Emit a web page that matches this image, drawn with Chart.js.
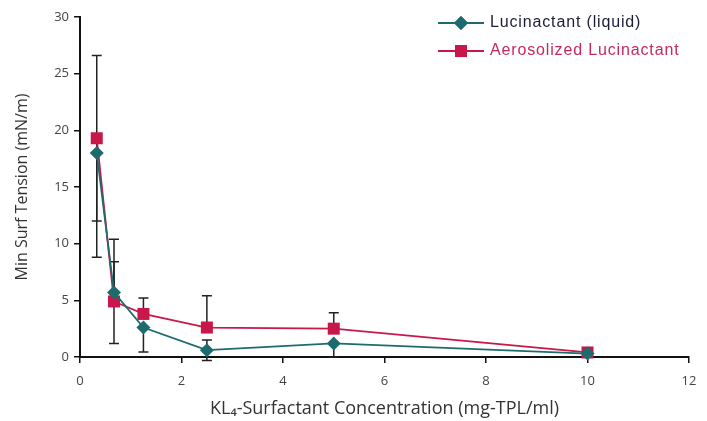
<!DOCTYPE html>
<html>
<head>
<meta charset="utf-8">
<script src="https://cdn.jsdelivr.net/npm/chart.js@4.4.1/dist/chart.umd.min.js"></script>
<style>
  html, body { margin: 0; padding: 0; background: #fff; }
  #wrap { width: 707px; height: 421px; }
</style>
</head>
<body>
<div id="wrap"><canvas id="myChart" width="707" height="421"></canvas></div>
<script>
// concentration (mg-TPL/ml)
var conc = [0.33, 0.67, 1.25, 2.5, 5, 10];
var liquidVals = [18.0, 5.7, 2.6, 0.6, 1.2, 0.3];
var liquidErrUp = [0, 4.7, 0, 0.9, 0, 0];
var liquidErrDown = [9.2, 0, 2.15, 0.9, 1.2, 0];
var aeroVals = [19.3, 4.9, 3.8, 2.6, 2.5, 0.4];
var aeroErrUp = [7.3, 3.5, 1.4, 2.8, 1.4, 0];
var aeroErrDown = [7.3, 3.7, 0, 0, 0, 0];
var xTicks = [0, 2, 4, 6, 8, 10, 12];
var yTicks = [0, 5, 10, 15, 20, 25, 30];
var seriesNames = ['Lucinactant (liquid)', 'Aerosolized Lucinactant'];

var teal = '#1e6b6e';
var red = '#c8184a';

function toPoints(vals, up, down) {
  return conc.map(function (c, i) {
    return { x: c, y: vals[i], up: up[i], down: down[i] };
  });
}

// error bars, drawn under the markers
var errorBars = {
  id: 'errorBars',
  beforeDatasetsDraw: function (chart) {
    var ctx = chart.ctx;
    var xs = chart.scales.x, ys = chart.scales.y;
    ctx.save();
    ctx.strokeStyle = '#222';
    ctx.lineWidth = 1.5;
    chart.data.datasets.forEach(function (ds) {
      ds.data.forEach(function (p) {
        var px = xs.getPixelForValue(p.x);
        var py = ys.getPixelForValue(p.y);
        [[p.up, 1], [p.down, -1]].forEach(function (e) {
          if (!e[0]) return;
          var ey = ys.getPixelForValue(p.y + e[0] * e[1]);
          ctx.beginPath();
          ctx.moveTo(px, py);
          ctx.lineTo(px, ey);
          ctx.moveTo(px - 5, ey);
          ctx.lineTo(px + 5, ey);
          ctx.stroke();
        });
      });
    });
    ctx.restore();
  }
};

// legend with line + marker, top right
var legendBox = {
  id: 'legendBox',
  afterDraw: function (chart) {
    var ctx = chart.ctx;
    var rows = [
      { y: 23, color: teal, style: 'rectRot', r: 7, text: seriesNames[0], textColor: '#1c1c38' },
      { y: 51, color: red, style: 'rect', r: 8.5, text: seriesNames[1], textColor: '#c8285a' }
    ];
    ctx.save();
    rows.forEach(function (row) {
      ctx.strokeStyle = row.color;
      ctx.lineWidth = 2;
      ctx.beginPath();
      ctx.moveTo(438, row.y);
      ctx.lineTo(484, row.y);
      ctx.stroke();
      ctx.fillStyle = row.color;
      Chart.helpers.drawPoint(ctx, { pointStyle: row.style, radius: row.r, borderWidth: 0, rotation: 0 }, 461, row.y);
      ctx.fill();
      ctx.fillStyle = row.textColor;
      ctx.font = '16px "Liberation Sans", Arial, sans-serif';
      ctx.letterSpacing = '0.85px';
      ctx.textBaseline = 'middle';
      ctx.fillText(row.text, 490, row.y);
    });
    ctx.restore();
  }
};

var ctx = document.getElementById('myChart');
var myChart = new Chart(ctx, {
  type: 'line',
  data: {
    datasets: [{
      label: seriesNames[0],
      data: toPoints(liquidVals, liquidErrUp, liquidErrDown),
      borderColor: teal,
      backgroundColor: teal,
      borderWidth: 1.8,
      pointStyle: 'rectRot',
      pointRadius: 7,
      pointBorderWidth: 0,
      tension: 0
    }, {
      label: seriesNames[1],
      data: toPoints(aeroVals, aeroErrUp, aeroErrDown),
      borderColor: red,
      backgroundColor: red,
      borderWidth: 1.8,
      pointStyle: 'rect',
      pointRadius: 8.5,
      pointBorderWidth: 0,
      tension: 0
    }]
  },
  options: {
    responsive: false,
    animation: false,
    clip: false,
    layout: { padding: { top: 17, right: 18, left: 0, bottom: 0 } },
    plugins: {
      legend: { display: false },
      tooltip: { enabled: false }
    },
    scales: {
      x: {
        type: 'linear',
        min: 0,
        max: 12,
        afterFit: function (s) { s.height = 64; },
        afterBuildTicks: function (s) { s.ticks = xTicks.map(function (v) { return { value: v }; }); },
        border: { color: '#111', width: 2 },
        grid: { drawOnChartArea: false, drawTicks: true, tickLength: 6, color: '#111', lineWidth: 1.5 },
        ticks: { padding: 10, color: '#444', font: { family: '"Open Sans", sans-serif', size: 13 } },
        title: {
          display: true,
          text: 'KL\u2084-Surfactant Concentration (mg-TPL/ml)',
          color: '#333',
          font: { family: '"Open Sans", sans-serif', size: 18 },
          padding: { top: 1, bottom: 1 }
        }
      },
      y: {
        min: 0,
        max: 30,
        afterFit: function (s) { s.width = 80; },
        afterBuildTicks: function (s) { s.ticks = yTicks.map(function (v) { return { value: v }; }); },
        border: { color: '#111', width: 2 },
        grid: { drawOnChartArea: false, drawTicks: true, tickLength: 6, color: '#111', lineWidth: 1.5 },
        ticks: { padding: 5, color: '#444', font: { family: '"Open Sans", sans-serif', size: 13 } },
        title: {
          display: true,
          text: 'Min Surf Tension (mN/m)',
          color: '#333',
          font: { family: '"Open Sans", sans-serif', size: 16 },
          padding: { top: 13, bottom: 13 }
        }
      }
    }
  },
  plugins: [errorBars, legendBox]
});
</script>
</body>
</html>
